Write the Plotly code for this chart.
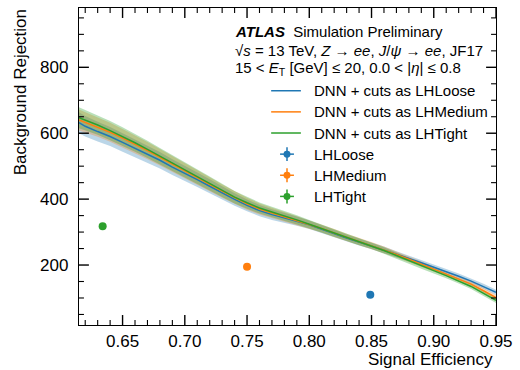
import plotly.graph_objects as go

# ---------------- data ----------------
eff = [0.615, 0.62, 0.63, 0.64, 0.65, 0.66, 0.67, 0.68, 0.69, 0.70, 0.71, 0.72,
       0.73, 0.74, 0.75, 0.76, 0.77, 0.78, 0.79, 0.80, 0.81, 0.82, 0.83, 0.84,
       0.85, 0.86, 0.87, 0.88, 0.89, 0.90, 0.91, 0.92, 0.93, 0.94, 0.95]

rej_loose = [632, 621, 605, 590, 572, 554, 535, 518, 497, 479, 459, 439,
             418, 399, 381, 365, 353, 344, 333, 322, 308, 295, 282, 270,
             258, 246, 233, 220, 207, 194, 180, 166, 151, 135, 117]
rej_medium = [640, 633, 619, 603, 585, 567, 547, 527, 507, 486, 466, 445,
              424, 404, 386, 370, 358, 348, 336, 324, 311, 297, 284, 272,
              260, 246, 232, 218, 203, 189, 174, 158, 142, 122, 101]
rej_tight = [647, 640, 625, 608, 590, 571, 551, 530, 510, 489, 469, 448,
             427, 406, 389, 373, 361, 350, 337, 324, 311, 297, 284, 271,
             259, 244, 229, 213, 198, 183, 168, 152, 135, 114, 93]
rej_unc = [32, 31, 30, 29, 28, 27, 26, 25, 24, 23, 22, 21,
           20, 19, 18, 17, 16, 15, 14, 13, 12, 12, 11, 11,
           10, 10, 9, 9, 9, 8, 8, 8, 8, 8, 8]

wp_names = ["LHLoose", "LHMedium", "LHTight"]
wp_eff = [0.849, 0.750, 0.634]
wp_rej = [110, 195, 318]

dnn_names = ["DNN + cuts as LHLoose", "DNN + cuts as LHMedium", "DNN + cuts as LHTight"]
colors = ["#1f77b4", "#ff7f0e", "#2ca02c"]
bands = ["rgba(31,119,180,0.30)", "rgba(255,127,14,0.30)", "rgba(44,160,44,0.33)"]

x_major = [0.65, 0.70, 0.75, 0.80, 0.85, 0.90, 0.95]
x_minor = [0.62, 0.63, 0.64, 0.66, 0.67, 0.68, 0.69, 0.71, 0.72, 0.73, 0.74,
           0.76, 0.77, 0.78, 0.79, 0.81, 0.82, 0.83, 0.84, 0.86, 0.87, 0.88,
           0.89, 0.91, 0.92, 0.93, 0.94]
y_major = [200, 400, 600, 800]
y_minor = [50, 100, 150, 250, 300, 350, 450, 500, 550, 650, 700, 750, 850, 900, 950]

# ---------------- figure ----------------
W, H = 520, 370
L, R, T, B = 79, 500, 7, 325
XR = [0.615, 0.95]
YR = [18, 980]
FONT = "Liberation Sans, Arial, Helvetica, sans-serif"

def px(x):
    return (x - L) / (R - L)

def py(y):
    return (B - y) / (B - T)

# pixel -> data-unit conversion for tick lengths
dx_per_px = (XR[1] - XR[0]) / (R - L)
dy_per_px = (YR[1] - YR[0]) / (B - T)

fig = go.Figure()
curves = [rej_loose, rej_medium, rej_tight]

for c, col, band in zip(curves, colors, bands):
    up = [v + u for v, u in zip(c, rej_unc)]
    lo = [v - u for v, u in zip(c, rej_unc)]
    fig.add_trace(go.Scatter(x=eff, y=lo, mode="lines", line=dict(width=0),
                             hoverinfo="skip", showlegend=False))
    fig.add_trace(go.Scatter(x=eff, y=up, mode="lines", line=dict(width=0),
                             fill="tonexty", fillcolor=band,
                             hoverinfo="skip", showlegend=False))

for c, col, name in zip(curves, colors, dnn_names):
    fig.add_trace(go.Scatter(x=eff, y=c, mode="lines", name=name,
                             line=dict(color=col, width=1.5), showlegend=False))

for e, r, col, name in zip(wp_eff, wp_rej, colors, wp_names):
    fig.add_trace(go.Scatter(x=[e], y=[r], mode="markers", name=name,
                             marker=dict(color=col, size=8), showlegend=False))

# inside tick marks on all four sides, drawn as line traces on the axes' scales
for vals, ln, wd in [(x_major, 10, 1.4), (x_minor, 5, 1.1)]:
    tx, ty = [], []
    for v in vals:
        tx += [v, v, None, v, v, None]
        ty += [YR[0], YR[0] + ln * dy_per_px, None,
               YR[1], YR[1] - ln * dy_per_px, None]
    fig.add_trace(go.Scatter(x=tx, y=ty, mode="lines", hoverinfo="skip",
                             line=dict(color="black", width=wd), showlegend=False))
for vals, ln, wd in [(y_major, 10, 1.4), (y_minor, 5, 1.1)]:
    tx, ty = [], []
    for v in vals:
        tx += [XR[0], XR[0] + ln * dx_per_px, None,
               XR[1], XR[1] - ln * dx_per_px, None]
        ty += [v, v, None, v, v, None]
    fig.add_trace(go.Scatter(x=tx, y=ty, mode="lines", hoverinfo="skip",
                             line=dict(color="black", width=wd), showlegend=False))

fig.update_xaxes(range=XR, tickvals=x_major,
                 ticktext=[f"{v:.2f}" for v in x_major],
                 showline=True, linecolor="black", linewidth=1.3, mirror=True,
                 ticks="", showgrid=False, zeroline=False,
                 tickfont=dict(family=FONT, size=17, color="black"))
fig.update_yaxes(range=YR, tickvals=y_major,
                 showline=True, linecolor="black", linewidth=1.3, mirror=True,
                 ticks="", ticklabelstandoff=6, showgrid=False, zeroline=False,
                 tickfont=dict(family=FONT, size=17, color="black"))

shapes = []
ann = []
ann.append(dict(text="Signal Efficiency", xref="paper", yref="paper",
                x=px(499), y=py(360), xanchor="right", yanchor="middle",
                showarrow=False, font=dict(family=FONT, size=17, color="black")))
ann.append(dict(text="Background Rejection", xref="paper", yref="paper",
                x=px(20), y=py(92), xanchor="center", yanchor="middle",
                textangle=-90, showarrow=False,
                font=dict(family=FONT, size=17, color="black")))
header = [
    "<b><i>ATLAS</i></b>  Simulation Preliminary",
    "√<i>s</i> = 13 TeV, <i>Z</i> → <i>ee</i>, <i>J</i>/<i>ψ</i> → <i>ee</i>, JF17",
    "15 &lt; <i>E</i><sub>T</sub> [GeV] ≤ 20, 0.0 &lt; |<i>η</i>| ≤ 0.8",
]
for txt, yy in zip(header, [31, 50, 68]):
    ann.append(dict(text=txt, xref="paper", yref="paper", x=px(234), y=py(yy),
                    xanchor="left", yanchor="middle", showarrow=False,
                    font=dict(family=FONT, size=15, color="black")))

legend_names = dnn_names + wp_names
legend_cols = colors + colors
for i, (name, col) in enumerate(zip(legend_names, legend_cols)):
    yy = 90 + 21.2 * i
    ann.append(dict(text=name, xref="paper", yref="paper", x=px(314), y=py(yy),
                    xanchor="left", yanchor="middle", showarrow=False,
                    font=dict(family=FONT, size=15, color="black")))
    if i < 3:
        shapes.append(dict(type="line", xref="paper", yref="paper",
                           x0=px(273), x1=px(303), y0=py(yy), y1=py(yy),
                           line=dict(color=col, width=1.5)))
    else:
        shapes.append(dict(type="line", xref="paper", yref="paper",
                           x0=px(282), x1=px(296), y0=py(yy), y1=py(yy),
                           line=dict(color=col, width=1.5)))
        shapes.append(dict(type="line", xref="paper", yref="paper",
                           x0=px(289), x1=px(289), y0=py(yy - 7), y1=py(yy + 7),
                           line=dict(color=col, width=1.5)))
        shapes.append(dict(type="circle", xref="paper", yref="paper",
                           x0=px(285.5), x1=px(292.5), y0=py(yy - 3.5), y1=py(yy + 3.5),
                           fillcolor=col, line=dict(color=col, width=0)))

fig.update_layout(
    width=W, height=H,
    margin=dict(l=L, r=W - R, t=T, b=H - B),
    plot_bgcolor="white", paper_bgcolor="white",
    showlegend=False,
    annotations=ann, shapes=shapes,
    font=dict(family=FONT, color="black"),
)

fig.write_html("out.html")
